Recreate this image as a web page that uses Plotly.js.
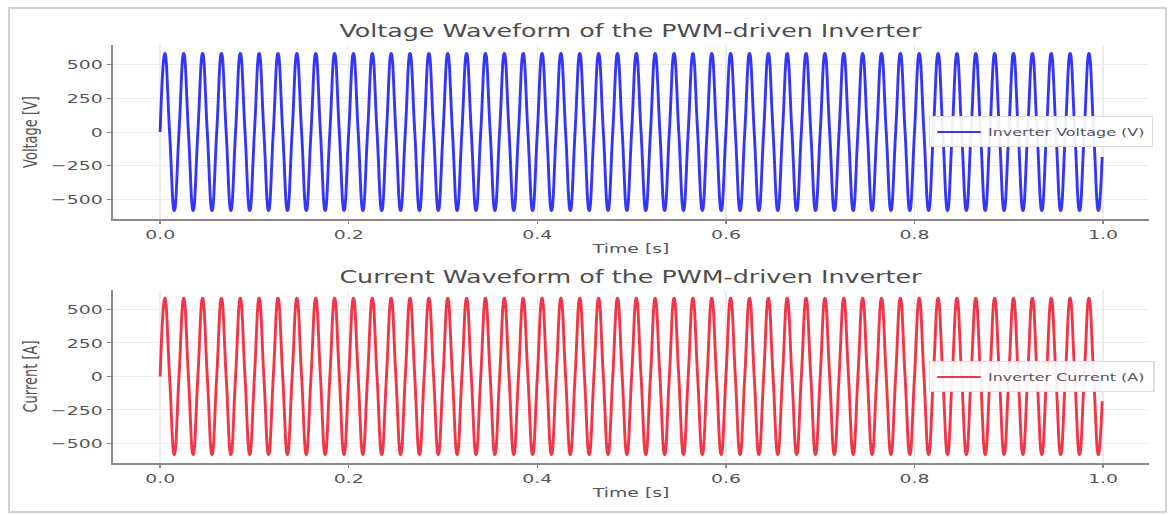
<!DOCTYPE html>
<html>
<head>
<meta charset="utf-8">
<script src="https://cdn.plot.ly/plotly-3.0.1.min.js"></script>
<style>
  html, body { margin: 0; padding: 0; background: #ffffff; overflow: hidden; }
  #wrap { position: relative; width: 1171px; height: 515px; overflow: hidden; background: #ffffff; }
  #plot { position: absolute; left: 0; top: 0; width: 808px; height: 515px;
          transform: scaleX(1.44926); transform-origin: 0 0; }
  #frame { position: absolute; left: 8px; top: 7px; width: 1155px; height: 502px;
           border: 2px solid #d2d2d2; pointer-events: none; }
</style>
</head>
<body>
<div id="wrap">
  <div id="plot"></div>
  <div id="frame"></div>
</div>
<script>
// ---- data (key points of each cycle: zero, crest, zero, trough) ----
const time_s = [
  0,0.005,0.01,0.015,0.02,0.025,0.03,0.035,0.04,0.045,0.05,0.055,0.06,0.065,0.07,0.075,0.08,0.085,0.09,0.095,
  0.1,0.105,0.11,0.115,0.12,0.125,0.13,0.135,0.14,0.145,0.15,0.155,0.16,0.165,0.17,0.175,0.18,0.185,0.19,0.195,
  0.2,0.205,0.21,0.215,0.22,0.225,0.23,0.235,0.24,0.245,0.25,0.255,0.26,0.265,0.27,0.275,0.28,0.285,0.29,0.295,
  0.3,0.305,0.31,0.315,0.32,0.325,0.33,0.335,0.34,0.345,0.35,0.355,0.36,0.365,0.37,0.375,0.38,0.385,0.39,0.395,
  0.4,0.405,0.41,0.415,0.42,0.425,0.43,0.435,0.44,0.445,0.45,0.455,0.46,0.465,0.47,0.475,0.48,0.485,0.49,0.495,
  0.5,0.505,0.51,0.515,0.52,0.525,0.53,0.535,0.54,0.545,0.55,0.555,0.56,0.565,0.57,0.575,0.58,0.585,0.59,0.595,
  0.6,0.605,0.61,0.615,0.62,0.625,0.63,0.635,0.64,0.645,0.65,0.655,0.66,0.665,0.67,0.675,0.68,0.685,0.69,0.695,
  0.7,0.705,0.71,0.715,0.72,0.725,0.73,0.735,0.74,0.745,0.75,0.755,0.76,0.765,0.77,0.775,0.78,0.785,0.79,0.795,
  0.8,0.805,0.81,0.815,0.82,0.825,0.83,0.835,0.84,0.845,0.85,0.855,0.86,0.865,0.87,0.875,0.88,0.885,0.89,0.895,
  0.9,0.905,0.91,0.915,0.92,0.925,0.93,0.935,0.94,0.945,0.95,0.955,0.96,0.965,0.97,0.975,0.98,0.985,0.99,0.995,
  0.999
];

const voltage_V = [
  0,587,0,-587,0,587,0,-587,0,587,0,-587,0,587,0,-587,0,587,0,-587,
  0,587,0,-587,0,587,0,-587,0,587,0,-587,0,587,0,-587,0,587,0,-587,
  0,587,0,-587,0,587,0,-587,0,587,0,-587,0,587,0,-587,0,587,0,-587,
  0,587,0,-587,0,587,0,-587,0,587,0,-587,0,587,0,-587,0,587,0,-587,
  0,587,0,-587,0,587,0,-587,0,587,0,-587,0,587,0,-587,0,587,0,-587,
  0,587,0,-587,0,587,0,-587,0,587,0,-587,0,587,0,-587,0,587,0,-587,
  0,587,0,-587,0,587,0,-587,0,587,0,-587,0,587,0,-587,0,587,0,-587,
  0,587,0,-587,0,587,0,-587,0,587,0,-587,0,587,0,-587,0,587,0,-587,
  0,587,0,-587,0,587,0,-587,0,587,0,-587,0,587,0,-587,0,587,0,-587,
  0,587,0,-587,0,587,0,-587,0,587,0,-587,0,587,0,-587,0,587,0,-587,
  -185
];

const current_A = [
  0,587,0,-587,0,587,0,-587,0,587,0,-587,0,587,0,-587,0,587,0,-587,
  0,587,0,-587,0,587,0,-587,0,587,0,-587,0,587,0,-587,0,587,0,-587,
  0,587,0,-587,0,587,0,-587,0,587,0,-587,0,587,0,-587,0,587,0,-587,
  0,587,0,-587,0,587,0,-587,0,587,0,-587,0,587,0,-587,0,587,0,-587,
  0,587,0,-587,0,587,0,-587,0,587,0,-587,0,587,0,-587,0,587,0,-587,
  0,587,0,-587,0,587,0,-587,0,587,0,-587,0,587,0,-587,0,587,0,-587,
  0,587,0,-587,0,587,0,-587,0,587,0,-587,0,587,0,-587,0,587,0,-587,
  0,587,0,-587,0,587,0,-587,0,587,0,-587,0,587,0,-587,0,587,0,-587,
  0,587,0,-587,0,587,0,-587,0,587,0,-587,0,587,0,-587,0,587,0,-587,
  0,587,0,-587,0,587,0,-587,0,587,0,-587,0,587,0,-587,0,587,0,-587,
  -185
];

const x_tick_vals = [0, 0.2, 0.4, 0.6, 0.8, 1.0];
const x_tick_text = ["0.0", "0.2", "0.4", "0.6", "0.8", "1.0"];
const y_tick_vals = [-500, -250, 0, 250, 500];
const y_tick_text = ["\u2212500", "\u2212250", "0", "250", "500"];

const voltage_name = "Inverter Voltage (V)";
const current_name = "Inverter Current (A)";
const voltage_title = "Voltage Waveform of the PWM-driven Inverter";
const current_title = "Current Waveform of the PWM-driven Inverter";

// ---- styling ----
const FONT = "DejaVu Sans, Verdana, sans-serif";
const tickFont = { family: FONT, size: 13, color: "#555555" };
const labelFont = { family: FONT, size: 13, color: "#555555" };

const traces = [
  {
    x: time_s, y: voltage_V, type: "scatter", mode: "lines",
    name: voltage_name, xaxis: "x", yaxis: "y", legend: "legend",
    line: { color: "rgba(10,10,245,0.82)", width: 2, shape: "spline", smoothing: 1.3 }
  },
  {
    x: time_s, y: current_A, type: "scatter", mode: "lines",
    name: current_name, xaxis: "x2", yaxis: "y2", legend: "legend2",
    line: { color: "rgba(240,10,30,0.82)", width: 2, shape: "spline", smoothing: 1.3 }
  }
];

function xAxis(anchor) {
  return {
    anchor: anchor, range: [-0.04995, 1.04895],
    tickmode: "array", tickvals: x_tick_vals, ticktext: x_tick_text,
    ticks: "outside", ticklen: 3, tickwidth: 1, tickcolor: "#888888",
    showline: true, linecolor: "#8a8a8a", linewidth: 1.5,
    showgrid: true, gridcolor: "#ececec", gridwidth: 1, zeroline: false,
    tickfont: tickFont,
    title: { text: "Time [s]", font: labelFont, standoff: 3 }
  };
}
function yAxis(anchor, domain, label) {
  return {
    anchor: anchor, domain: domain, range: [-645.7, 645.7],
    tickmode: "array", tickvals: y_tick_vals, ticktext: y_tick_text,
    ticks: "outside", ticklen: 3, tickwidth: 1, tickcolor: "#888888",
    showline: true, linecolor: "#8a8a8a", linewidth: 1.5,
    showgrid: true, gridcolor: "#ececec", gridwidth: 1, zeroline: false,
    tickfont: tickFont,
    title: { text: label, font: labelFont, standoff: 6 }
  };
}

const legendStyle = {
  bgcolor: "rgba(255,255,255,0.92)", bordercolor: "#dddddd", borderwidth: 1,
  font: { family: FONT, size: 11, color: "#555555" },
  xanchor: "left", yanchor: "middle", itemwidth: 30
};

const layout = {
  width: 808, height: 515,
  margin: { l: 77.7, r: 11.1, t: 45, b: 52 },
  paper_bgcolor: "#ffffff", plot_bgcolor: "#ffffff",
  showlegend: true,
  xaxis: xAxis("y"),
  yaxis: yAxis("x", [0.5837, 1], "Voltage [V]"),
  xaxis2: xAxis("y2"),
  yaxis2: yAxis("x2", [0, 0.4139], "Current [A]"),
  legend: Object.assign({ x: 0.787, y: 0.792 }, legendStyle),
  legend2: Object.assign({ x: 0.787, y: 0.206 }, legendStyle),
  annotations: [
    { text: voltage_title, xref: "paper", yref: "paper", x: 0.5, y: 1.0335,
      xanchor: "center", yanchor: "middle", showarrow: false,
      font: { family: FONT, size: 17.5, color: "#4d4d4d" } },
    { text: current_title, xref: "paper", yref: "paper", x: 0.5, y: 0.445,
      xanchor: "center", yanchor: "middle", showarrow: false,
      font: { family: FONT, size: 17.5, color: "#4d4d4d" } }
  ]
};

Plotly.newPlot("plot", traces, layout, { staticPlot: true, displayModeBar: false });
</script>
</body>
</html>
